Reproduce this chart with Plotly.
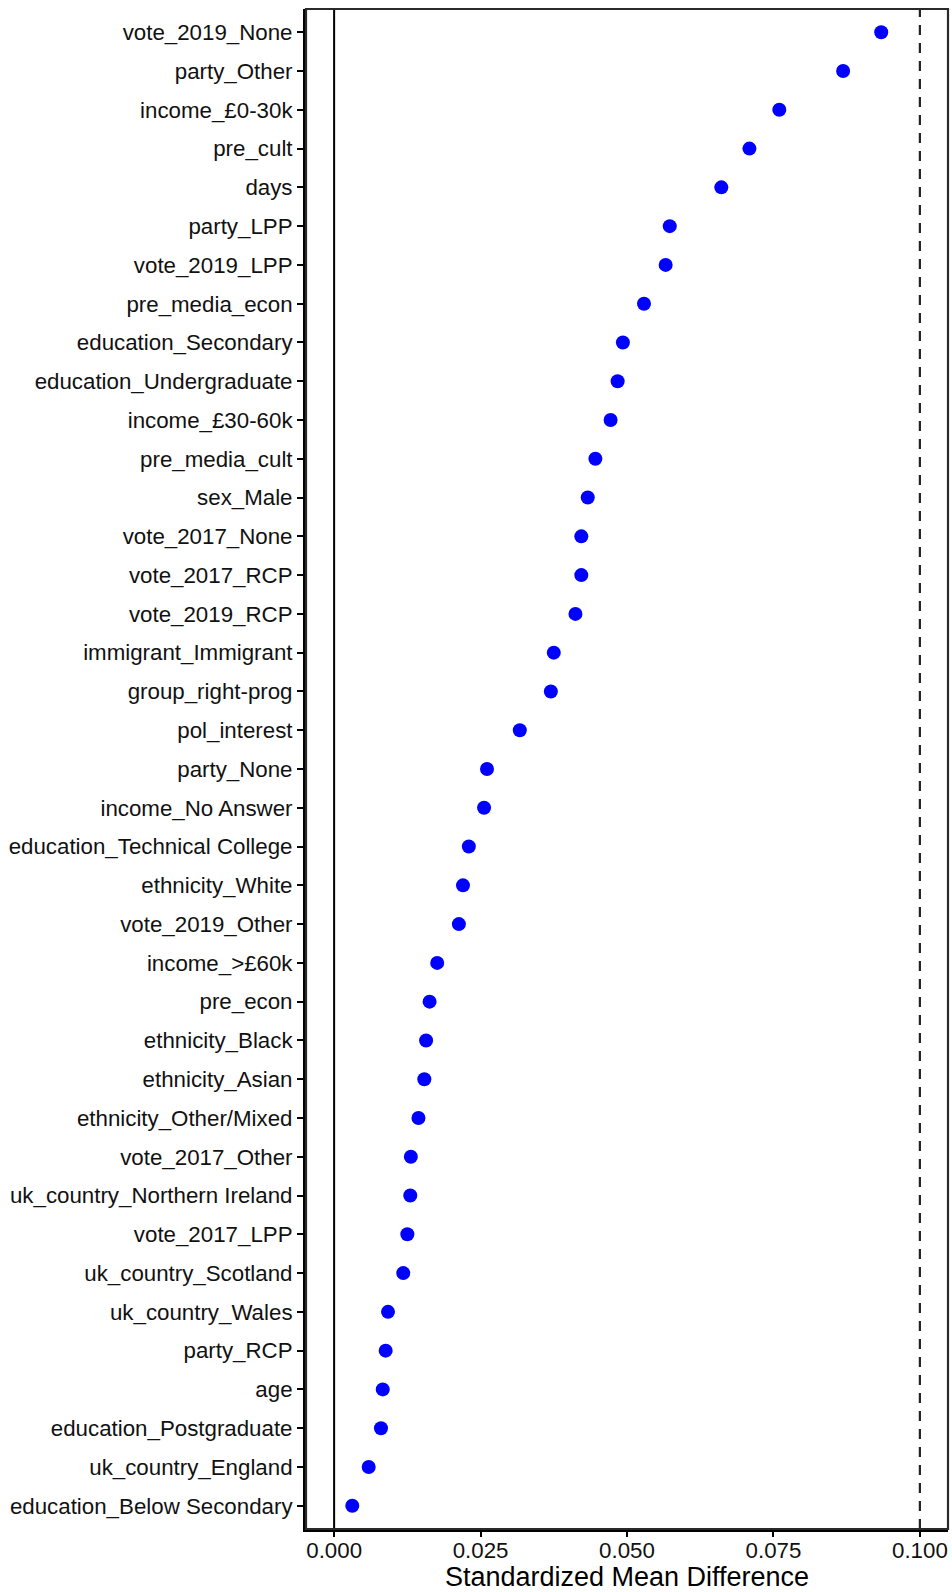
import plotly.graph_objects as go

# Covariates ordered from largest to smallest standardized mean difference
covariates = [
    "vote_2019_None", "party_Other", "income_£0-30k", "pre_cult", "days",
    "party_LPP", "vote_2019_LPP", "pre_media_econ", "education_Secondary",
    "education_Undergraduate", "income_£30-60k", "pre_media_cult", "sex_Male",
    "vote_2017_None", "vote_2017_RCP", "vote_2019_RCP", "immigrant_Immigrant",
    "group_right-prog", "pol_interest", "party_None", "income_No Answer",
    "education_Technical College", "ethnicity_White", "vote_2019_Other",
    "income_>£60k", "pre_econ", "ethnicity_Black", "ethnicity_Asian",
    "ethnicity_Other/Mixed", "vote_2017_Other", "uk_country_Northern Ireland",
    "vote_2017_LPP", "uk_country_Scotland", "uk_country_Wales", "party_RCP",
    "age", "education_Postgraduate", "uk_country_England",
    "education_Below Secondary",
]
smd = [
    0.0934, 0.0869, 0.0760, 0.0709, 0.0661,
    0.0573, 0.0566, 0.0529, 0.0493,
    0.0484, 0.0472, 0.0446, 0.0433,
    0.0422, 0.0422, 0.0412, 0.0375,
    0.0370, 0.0317, 0.0261, 0.0256,
    0.0230, 0.0220, 0.0213,
    0.0176, 0.0163, 0.0157, 0.0154,
    0.0144, 0.0131, 0.0130,
    0.0125, 0.0118, 0.0092, 0.0088,
    0.0083, 0.0080, 0.0059,
    0.0031,
]
x_ticks = [0.0, 0.025, 0.05, 0.075, 0.1]
threshold = 0.1

font_family = "Liberation Sans, Arial, Helvetica, sans-serif"

fig = go.Figure()
fig.add_trace(go.Scatter(
    x=smd, y=covariates, mode="markers",
    marker=dict(color="#0000FF", size=14, line=dict(width=0)),
    showlegend=False,
))

# Reference lines: zero and balance threshold
fig.add_vline(x=0, line=dict(color="black", width=2))
fig.add_vline(x=threshold, line=dict(color="#222222", width=2.2, dash="10px,8px"))

# Thin frame around the panel (left/bottom axis lines drawn heavier on top)
fig.add_shape(type="rect", xref="paper", yref="paper", x0=0, x1=1, y0=0, y1=1,
              line=dict(color="#2a2a2a", width=2.2), layer="above")

fig.update_layout(
    width=952, height=1592,
    margin=dict(l=306, r=4, t=9, b=63),
    paper_bgcolor="white", plot_bgcolor="white",
    font=dict(family=font_family, color="#111111"),
)
fig.update_xaxes(
    automargin=False,
    range=[-0.0048, 0.1048],
    tickvals=x_ticks, tickformat=".3f",
    tickfont=dict(size=22.3, color="#111111"),
    ticks="outside", ticklen=5, tickwidth=1.8, tickcolor="black",
    ticklabelstandoff=-6,
    showline=True, linecolor="black", linewidth=3,
    showgrid=False, zeroline=False,
    title=dict(text="Standardized Mean Difference", font=dict(size=27, color="black")),
)
fig.update_yaxes(
    automargin=False,
    type="category",
    categoryorder="array", categoryarray=covariates[::-1],
    range=[-0.6, len(covariates) - 0.4],
    tickfont=dict(size=22.3, color="#111111"),
    ticks="outside", ticklen=6, tickwidth=1.8, tickcolor="black",
    showline=True, linecolor="black", linewidth=3,
    showgrid=False, zeroline=False,
)

fig.write_html("out.html")
